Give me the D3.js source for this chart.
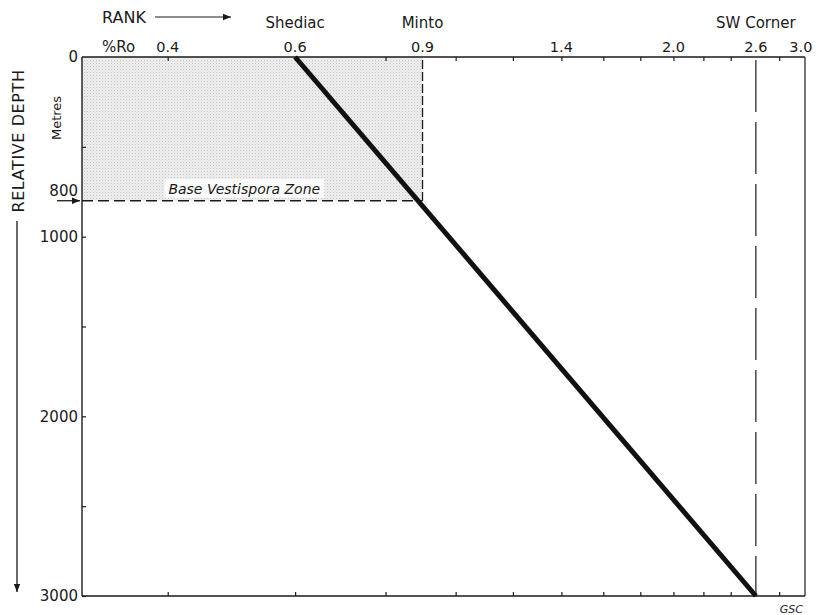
<!DOCTYPE html>
<html>
<head>
<meta charset="utf-8">
<script src="https://cdn.jsdelivr.net/npm/d3@7"></script>
<style>
  html, body { margin: 0; padding: 0; background: #fff; }
  svg { display: block; font-family: "DejaVu Sans", sans-serif; }
</style>
</head>
<body>
<svg id="chart" width="820" height="615"></svg>
<script>
// Vitrinite reflectance (%Ro) against relative depth
const rankLabels = [0.4, 0.6, 0.9, 1.4, 2.0, 2.6, 3.0];
const rankTicks = [0.4, 0.6, 0.8, 1.0, 1.2, 1.4, 1.6, 1.8, 2.0, 2.2, 2.4, 2.8];
const rankDomain = [0.3045, 3.04];
const depthTicks = [500, 1000, 1500, 2000, 2500, 3000];
const depthLabels = [0, 800, 1000, 2000, 3000];
const depthDomain = [0, 3000];

// Trend line: Shediac at the top of the section, SW Corner at 3000 m
const trendRo = [0.6, 2.6];
const trendDepth = [0, 3000];

// Localities marked along the rank axis
const localities = ["Shediac", "Minto", "SW Corner"];
const localityRo = [0.6, 0.9, 2.6];

// Base of the Vestispora Zone
const zoneBaseDepth = 800;
const zoneRo = 0.9;

const svg = d3.select("#chart");
const plot = { left: 82, right: 805, top: 57, bottom: 596 };
const ink = "#1a1a1a";

const x = d3.scaleLog().domain(rankDomain).range([plot.left, plot.right]);
const y = d3.scaleLinear().domain(depthDomain).range([plot.top, plot.bottom]);

// stipple pattern for the Vestispora zone
const defs = svg.append("defs");
const pat = defs.append("pattern").attr("id", "stipple")
  .attr("width", 3).attr("height", 3).attr("patternUnits", "userSpaceOnUse");
pat.append("rect").attr("width", 3).attr("height", 3).attr("fill", "#efefef");
pat.append("rect").attr("x", 0).attr("y", 0).attr("width", 1).attr("height", 1).attr("fill", "#c4c4c4");
pat.append("rect").attr("x", 1.5).attr("y", 1.5).attr("width", 1).attr("height", 1).attr("fill", "#d6d6d6");

defs.append("marker").attr("id", "arrow")
  .attr("viewBox", "0 0 10 10").attr("refX", 10).attr("refY", 5)
  .attr("markerWidth", 10).attr("markerHeight", 8).attr("markerUnits", "userSpaceOnUse")
  .attr("orient", "auto")
  .append("path").attr("d", "M0,1 L10,5 L0,9 Z").attr("fill", ink);

// shaded zone
svg.append("rect")
  .attr("x", x(rankDomain[0])).attr("y", y(0))
  .attr("width", x(zoneRo) - x(rankDomain[0]))
  .attr("height", y(zoneBaseDepth) - y(0))
  .attr("fill", "url(#stipple)");

// zone label with a clear backing
const zoneLabel = svg.append("text")
  .attr("x", (x(rankDomain[0]) + x(zoneRo)) / 2 - 8)
  .attr("y", y(zoneBaseDepth) - 7)
  .attr("text-anchor", "middle")
  .attr("font-size", 14).attr("font-style", "italic").attr("fill", ink)
  .text("Base Vestispora Zone");
const bb = zoneLabel.node().getBBox();
svg.insert("rect", "text")
  .attr("x", bb.x - 4).attr("y", bb.y - 2)
  .attr("width", bb.width + 8).attr("height", bb.height + 3)
  .attr("fill", "#fbfbfb");

// zone boundaries
svg.append("line")
  .attr("x1", x(rankDomain[0])).attr("x2", x(zoneRo))
  .attr("y1", y(zoneBaseDepth)).attr("y2", y(zoneBaseDepth))
  .attr("stroke", ink).attr("stroke-width", 1.3).attr("stroke-dasharray", "11,5");
svg.append("line")
  .attr("x1", x(zoneRo)).attr("x2", x(zoneRo))
  .attr("y1", y(0) + 3).attr("y2", y(zoneBaseDepth))
  .attr("stroke", ink).attr("stroke-width", 1.3).attr("stroke-dasharray", "9,3");

// SW Corner reference line
svg.append("line")
  .attr("x1", x(localityRo[2])).attr("x2", x(localityRo[2]))
  .attr("y1", y(0) + 3).attr("y2", y(depthDomain[1]))
  .attr("stroke", ink).attr("stroke-width", 1.2).attr("stroke-dasharray", "52,10");

// frame
svg.append("line").attr("x1", plot.right).attr("x2", plot.right)
  .attr("y1", plot.top).attr("y2", plot.bottom)
  .attr("stroke", ink).attr("stroke-width", 1.2);

// axes
const topAxis = d3.axisTop(x).tickValues(rankTicks).tickSize(-4).tickFormat("");
const botAxis = d3.axisBottom(x).tickValues(rankTicks).tickSize(-4).tickFormat("");
const leftAxis = d3.axisLeft(y).tickValues(depthTicks).tickSize(-4).tickFormat("");

function styleAxis(g) {
  g.select(".domain").attr("stroke", ink).attr("stroke-width", 1.4);
  g.selectAll(".tick line").attr("stroke", ink).attr("stroke-width", 1.2);
}
svg.append("g").attr("transform", `translate(0,${plot.top})`).call(topAxis)
  .call(g => g.select(".domain").attr("d", `M${plot.left},0H${plot.right}`)).call(styleAxis);
svg.append("g").attr("transform", `translate(0,${plot.bottom})`).call(botAxis)
  .call(g => g.select(".domain").attr("d", `M${plot.left},0H${plot.right}`)).call(styleAxis);
svg.append("g").attr("transform", `translate(${plot.left},0)`).call(leftAxis)
  .call(g => g.select(".domain").attr("d", `M0,${plot.top}V${plot.bottom}`)).call(styleAxis);

// rank labels
svg.append("g").selectAll("text").data(rankLabels).join("text")
  .attr("x", d => x(d)).attr("y", 52)
  .attr("text-anchor", "middle").attr("font-size", 14.5).attr("fill", ink)
  .text(d => d.toFixed(1));
svg.append("text").attr("x", 102).attr("y", 52)
  .attr("font-size", 15).attr("fill", ink).text("%Ro");

// locality labels
svg.append("g").selectAll("text").data(localities).join("text")
  .attr("x", (d, i) => x(localityRo[i])).attr("y", 28)
  .attr("text-anchor", "middle").attr("font-size", 15).attr("fill", ink)
  .text(d => d);

// RANK arrow
svg.append("text").attr("x", 102).attr("y", 23)
  .attr("font-size", 16).attr("fill", ink).text("RANK");
svg.append("line").attr("x1", 155).attr("x2", 231).attr("y1", 17).attr("y2", 17)
  .attr("stroke", ink).attr("stroke-width", 1.2).attr("marker-end", "url(#arrow)");

// depth labels
svg.append("g").selectAll("text").data(depthLabels).join("text")
  .attr("x", 78)
  .attr("y", d => d === zoneBaseDepth ? y(d) - 10 : y(d))
  .attr("dy", "0.36em")
  .attr("text-anchor", "end").attr("font-size", 15).attr("fill", ink)
  .text(d => d);

// arrow pointing at the zone base
svg.append("line").attr("x1", 57).attr("x2", 80)
  .attr("y1", y(zoneBaseDepth)).attr("y2", y(zoneBaseDepth))
  .attr("stroke", ink).attr("stroke-width", 1.3).attr("marker-end", "url(#arrow)");

// Metres
svg.append("text")
  .attr("transform", `translate(61,118) rotate(-90)`)
  .attr("text-anchor", "middle").attr("font-size", 13).attr("fill", ink)
  .text("Metres");

// RELATIVE DEPTH with downward arrow
svg.append("text")
  .attr("transform", `translate(24,141) rotate(-90)`)
  .attr("text-anchor", "middle").attr("font-size", 16).attr("letter-spacing", 0.6)
  .attr("fill", ink).text("RELATIVE DEPTH");
svg.append("line").attr("x1", 17).attr("x2", 17).attr("y1", 221).attr("y2", 592)
  .attr("stroke", ink).attr("stroke-width", 1.3).attr("marker-end", "url(#arrow)");

// trend line
svg.append("path")
  .datum(trendRo.map((r, i) => [r, trendDepth[i]]))
  .attr("d", d3.line().x(d => x(d[0])).y(d => y(d[1])))
  .attr("fill", "none").attr("stroke", "#111").attr("stroke-width", 5);

// credit
svg.append("text").attr("x", 803).attr("y", 613)
  .attr("text-anchor", "end").attr("font-size", 11).attr("font-style", "italic")
  .attr("fill", ink).text("GSC");
</script>
</body>
</html>
